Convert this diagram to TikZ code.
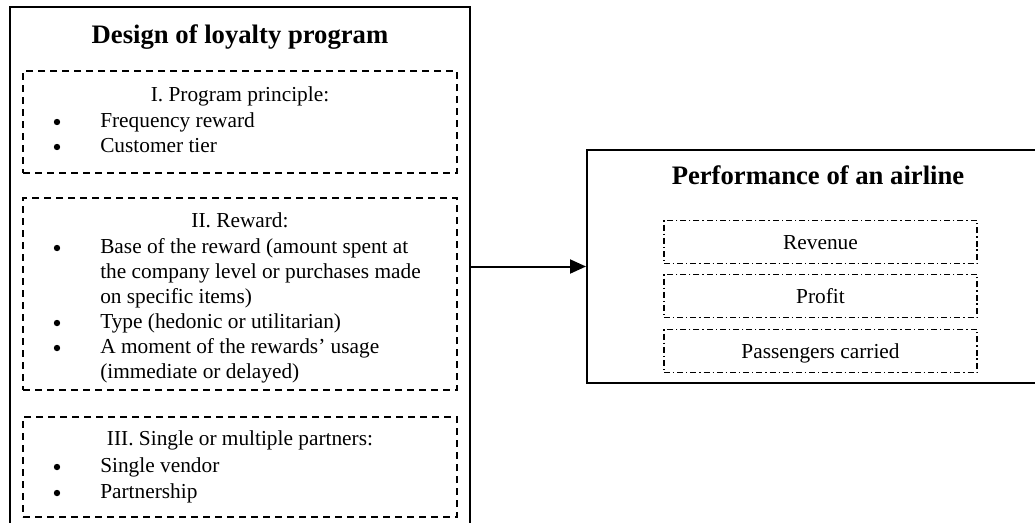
\documentclass[tikz,border=0pt]{standalone}
\usepackage{fontspec}
\setmainfont{Liberation Serif}
\usetikzlibrary{arrows.meta}

\tikzset{
    outerbox/.style={draw, line width=1.5pt, inner sep=0pt},
    partbox/.style={draw, line width=1.4pt, dash pattern=on 5.25pt off 3.75pt, inner sep=0pt, minimum width=325.5pt},
    kpibox/.style={draw, line width=1.1pt, dash pattern=on 4.5pt off 2.2pt on 1pt off 2.2pt, inner sep=0pt, minimum width=234.75pt, minimum height=32.25pt},
    heading/.style={anchor=base, inner sep=0pt, font=\fontsize{20}{24}\selectfont\bfseries},
    txt/.style={anchor=base west, inner sep=0pt, font=\fontsize{16}{18.75}\selectfont},
    mid/.style={anchor=base, inner sep=0pt, font=\fontsize{16}{18.75}\selectfont},
    bulletdot/.style={circle, fill, inner sep=0pt, minimum size=4.8pt},
}

\begin{document}
\begin{tikzpicture}[x=0.75pt, y=-0.75pt]
    \useasboundingbox (0,0) rectangle (1035,522);

    \node[outerbox, minimum width=345pt, minimum height=392.25pt] (design) at (240,268.5) {};
    \node[heading] (designtitle) at (240,43) {Design of loyalty program};

    \begin{scope}
    \node[partbox, minimum height=76.5pt] (principle) at (240,122) {};
    \node[mid] (principlehead) at (240,101) {I. Program principle:};
    \node[bulletdot] at (57,122) {};
    \node[txt] (frequency) at (100,127) {Frequency reward};
    \node[bulletdot] at (57,147) {};
    \node[txt] (tier) at (100,152) {Customer tier};
    \end{scope}

    \begin{scope}
    \node[partbox, minimum height=144pt] (reward) at (240,294) {};
    \node[mid] (rewardhead) at (240,227) {II. Reward:};
    \node[bulletdot] at (57,248) {};
    \node[txt] (basea) at (100,253) {Base of the reward (amount spent at};
    \node[txt] (baseb) at (100,278) {the company level or purchases made};
    \node[txt] (basec) at (100,303) {on specific items)};
    \node[bulletdot] at (57,323) {};
    \node[txt] (type) at (100,328) {Type (hedonic or utilitarian)};
    \node[bulletdot] at (57,348) {};
    \node[txt] (momenta) at (100,353) {A moment of the rewards’ usage};
    \node[txt] (momentb) at (100,378) {(immediate or delayed)};
    \end{scope}

    \begin{scope}
    \node[partbox, minimum height=75pt] (partners) at (240,467) {};
    \node[mid] (partnershead) at (240,445) {III. Single or multiple partners:};
    \node[bulletdot] at (57,467) {};
    \node[txt] (vendor) at (100,472) {Single vendor};
    \node[bulletdot] at (57,493) {};
    \node[txt] (partnership) at (100,498) {Partnership};
    \end{scope}

    \node[outerbox, minimum width=346.5pt, minimum height=174.75pt] (performance) at (818,266.5) {};
    \node[heading] (perftitle) at (818,184) {Performance of an airline};
    \node[kpibox] (revenue) at (820.5,242) {};
    \node[mid] at (820.5,249) {Revenue};
    \node[kpibox] (profit) at (820.5,296) {};
    \node[mid] at (820.5,303) {Profit};
    \node[kpibox] (passengers) at (820.5,351) {};
    \node[mid] at (820.5,358) {Passengers carried};

    \draw[line width=1.5pt, -{Triangle[length=12pt, width=10.5pt]}] (design.east |- performance.west) -- (performance.west);
\end{tikzpicture}
\end{document}
